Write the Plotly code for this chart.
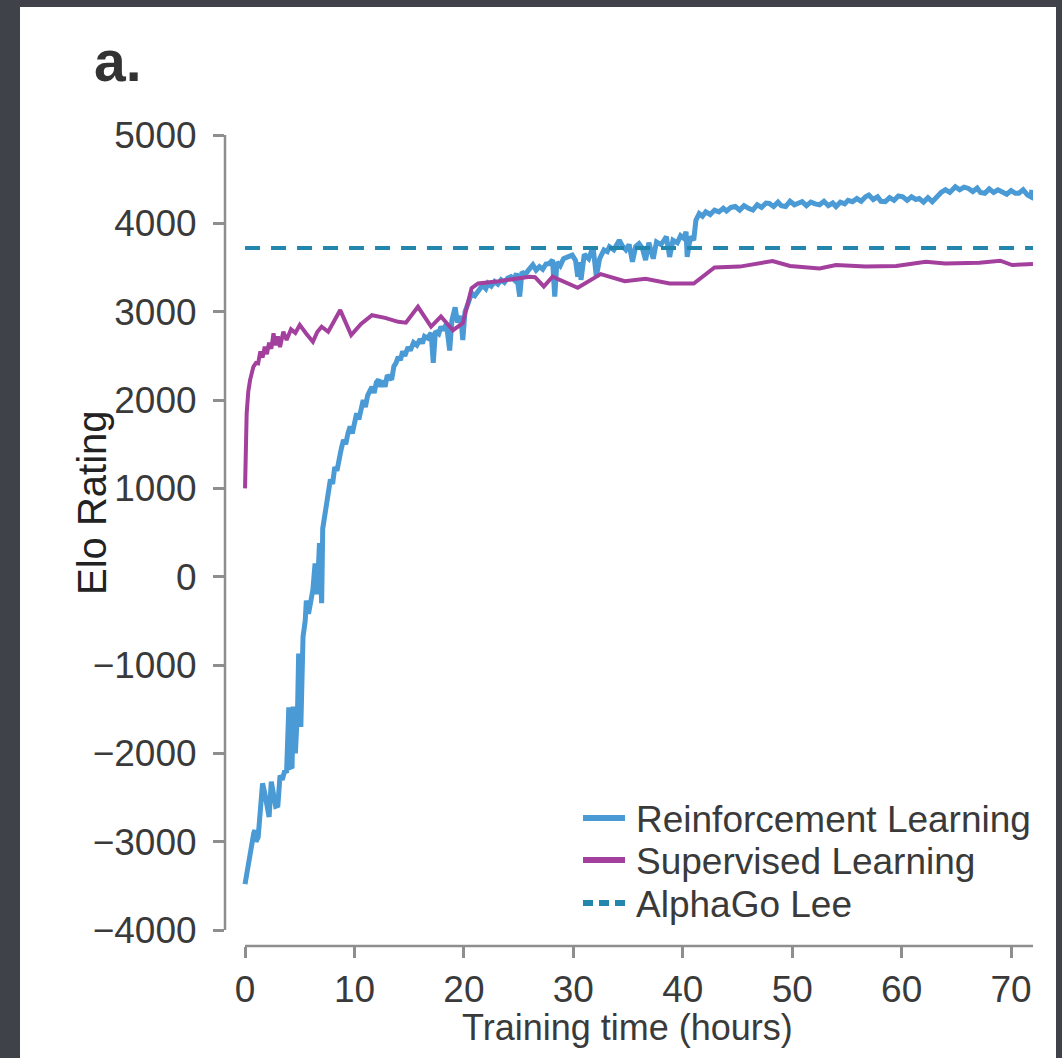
import plotly.graph_objects as go

# ---------------- data ----------------
rl_hours = [0.0, 0.3, 0.6, 0.8, 0.9, 1.0, 1.2, 1.4, 1.6, 1.8, 2.0, 2.2, 2.4, 2.6, 2.8, 3.0,
            3.2, 3.4, 3.6, 3.8, 4.0, 4.1, 4.3, 4.4, 4.6, 4.8, 4.9, 5.1, 5.3, 5.5, 5.6, 5.8,
            6.0, 6.2, 6.4, 6.6, 6.8, 7.0, 7.1, 7.3, 7.4, 7.6, 7.8, 8.0, 8.2, 8.4, 8.6, 8.8,
            9.0, 9.2, 9.4, 9.6, 9.8, 10.0, 10.2, 10.4, 10.6, 10.8, 11.0, 11.2, 11.4, 11.6,
            11.8, 12.0, 12.2, 12.4, 12.6, 12.8, 13.0, 13.2, 13.4, 13.6, 13.8, 14.0, 14.2,
            14.4, 14.6, 14.9, 15.1, 15.4, 15.7, 16.0, 16.2, 16.4, 16.7, 17.0, 17.2, 17.4,
            17.7, 17.9, 18.1, 18.4, 18.7, 18.9, 19.2, 19.4, 19.7, 19.9, 20.1, 20.4, 20.7,
            21.0, 21.4, 21.7, 22.0, 22.2, 22.5, 22.8, 23.1, 23.4, 23.7, 24.0, 24.3, 24.6,
            24.8, 25.1, 25.3, 25.6, 25.9, 26.3, 26.6, 26.9, 27.2, 27.5, 27.8, 28.1, 28.3,
            28.5, 28.8, 29.1, 29.5, 29.9, 30.2, 30.4, 30.6, 30.7, 31.0, 31.4, 31.8, 32.1,
            32.4, 32.8, 33.1, 33.3, 33.7, 34.0, 34.2, 34.5, 34.8, 35.1, 35.4, 35.7, 36.0,
            36.3, 36.6, 36.9, 37.3, 37.6, 38.0, 38.3, 38.5, 38.8, 39.1, 39.5, 39.8, 40.1,
            40.3, 40.4, 40.7, 41.0, 41.2, 41.5, 41.8, 42.1, 42.5, 42.9, 43.3, 43.7, 44.0,
            44.4, 44.8, 45.2, 45.6, 46.0, 46.4, 46.8, 47.2, 47.6, 47.9, 48.3, 48.7, 49.0,
            49.4, 49.8, 50.2, 50.6, 50.9, 51.3, 51.7, 52.1, 52.5, 52.9, 53.3, 53.7, 54.0,
            54.4, 54.8, 55.1, 55.5, 55.9, 56.3, 56.7, 57.0, 57.4, 57.8, 58.1, 58.5, 58.9,
            59.3, 59.7, 60.1, 60.5, 60.9, 61.3, 61.6, 62.0, 62.4, 62.8, 63.2, 63.6, 64.0,
            64.4, 64.9, 65.3, 65.7, 66.1, 66.5, 66.9, 67.2, 67.6, 68.0, 68.4, 68.8, 69.2,
            69.6, 70.0, 70.4, 70.7, 71.1, 71.5, 71.8, 71.9]
rl_elo = [-3480, -3250, -3000, -2900, -2870, -3000, -2950, -2550, -2340, -2450, -2600, -2720,
          -2320, -2450, -2600, -2590, -2250, -2300, -2210, -2200, -1480, -2160, -2150, -1470,
          -2000, -1500, -870, -1700, -680, -500, -270, -420, -300, -150, 150, -200, 380, -300,
          545, 700, 830, 900, 1100, 1050, 1240, 1200, 1350, 1450, 1550, 1500, 1620, 1700,
          1620, 1750, 1850, 1780, 1900, 2000, 1920, 2050, 2100, 2150, 2080, 2200, 2230, 2150,
          2220, 2150, 2280, 2250, 2230, 2380, 2420, 2490, 2450, 2550, 2500, 2600, 2560, 2650,
          2620, 2690, 2640, 2720, 2700, 2760, 2420, 2780, 2750, 2830, 2790, 2860, 2560, 2900,
          3050, 2880, 2950, 2680, 3000, 3100, 3210, 3180, 3250, 3300, 3260, 3320, 3290, 3340,
          3310, 3360, 3330, 3380, 3395, 3360, 3435, 3170, 3450, 3420, 3470, 3530, 3470, 3510,
          3480, 3540, 3545, 3585, 3170, 3560, 3520, 3600, 3620, 3640, 3580, 3395, 3560, 3360,
          3650, 3600, 3735, 3395, 3600, 3700, 3680, 3735, 3700, 3780, 3810, 3740, 3700, 3760,
          3565, 3740, 3770, 3720, 3585, 3780, 3600, 3790, 3760, 3810, 3850, 3620, 3810, 3780,
          3860, 3830, 3905, 3620, 3850, 3810, 4035, 4110, 4080, 4130, 4100, 4150, 4130, 4170,
          4140, 4180, 4190, 4150, 4200, 4170, 4150, 4210, 4180, 4230, 4225, 4190, 4240, 4200,
          4190, 4250, 4210, 4230, 4245, 4200, 4240, 4220, 4210, 4250, 4200, 4230, 4190, 4240,
          4220, 4260, 4245, 4280, 4250, 4300, 4320, 4270, 4300, 4250, 4245, 4290, 4260, 4310,
          4300, 4260, 4300, 4270, 4280, 4240, 4290, 4245, 4300, 4350, 4380, 4350, 4415, 4380,
          4410, 4395, 4360, 4400, 4350, 4340, 4390, 4350, 4380, 4360, 4330, 4370, 4340, 4340,
          4380, 4320, 4300, 4380]

sl_hours = [0.0, 0.15, 0.3, 0.46, 0.76, 1.0, 1.2, 1.4, 1.6, 1.8, 2.0, 2.2, 2.4, 2.6, 2.8, 3.0,
            3.2, 3.5, 3.8, 4.2, 4.6, 5.0, 5.6, 6.2, 6.6, 7.0, 7.6, 8.7, 9.7, 10.6, 11.6, 12.8,
            14.0, 14.7, 15.8, 17.0, 17.9, 19.0, 19.9, 20.7, 21.3, 23.2, 26.0, 26.5, 27.3, 28.1,
            30.4, 32.5, 34.7, 36.6, 38.8, 41.0, 42.9, 45.2, 48.2, 49.8, 52.5, 54.0, 56.7, 59.5,
            62.2, 64.0, 67.1, 69.0, 70.1, 72.0]
sl_elo = [1000, 1850, 2100, 2225, 2376, 2420, 2415, 2550, 2480, 2603, 2520, 2650, 2580, 2754,
          2620, 2720, 2600, 2773, 2680, 2800, 2760, 2850, 2750, 2660, 2770, 2830, 2773, 3018,
          2735, 2860, 2960, 2930, 2885, 2875, 3055, 2830, 2945, 2790, 2870, 3265, 3320, 3345,
          3395, 3390, 3285, 3395, 3270, 3425, 3345, 3372, 3318, 3318, 3500, 3510, 3573, 3517,
          3490, 3528, 3510, 3517, 3565, 3546, 3554, 3577, 3528, 3540]

alphago_lee_hours = [0, 72]
alphago_lee_elo = [3720, 3720]

series_names = ["Reinforcement Learning", "Supervised Learning", "AlphaGo Lee"]

x_ticks = [0, 10, 20, 30, 40, 50, 60, 70]
y_ticks = [5000, 4000, 3000, 2000, 1000, 0, -1000, -2000, -3000, -4000]
y_tick_text = ["5000", "4000", "3000", "2000", "1000", "0",
               "\u22121000", "\u22122000", "\u22123000", "\u22124000"]

# ---------------- style ----------------
FONT = "Liberation Sans, Arial, Helvetica, sans-serif"
TEXT = "#3a3a3a"
AXIS = "#8e8e8e"
C_RL, C_SL, C_AG = "#4a9ad6", "#a3409d", "#2386ad"

fig = go.Figure()
fig.add_trace(go.Scatter(x=rl_hours, y=rl_elo, mode="lines", name=series_names[0],
                         line=dict(color=C_RL, width=5), showlegend=False))
fig.add_trace(go.Scatter(x=sl_hours, y=sl_elo, mode="lines", name=series_names[1],
                         line=dict(color=C_SL, width=4), showlegend=False))
fig.add_trace(go.Scatter(x=alphago_lee_hours, y=alphago_lee_elo, mode="lines", name=series_names[2],
                         line=dict(color=C_AG, width=4, dash="15px,11px"), showlegend=False))

W, H = 1062, 1058
L, R, T, B = 225, 29, 135, 112
pw, ph = W - L - R, H - T - B

def px_x(p):
    return (p - L) / pw

def px_y(p):
    return (H - B - p) / ph

shapes = [
    # white panel
    dict(type="rect", xref="paper", yref="paper", x0=px_x(20), x1=px_x(1056),
         y0=px_y(1070), y1=px_y(7), fillcolor="white", line=dict(width=0), layer="below"),
    # detached axis lines
    dict(type="line", xref="paper", yref="y", x0=0, x1=0, y0=-4000, y1=5000,
         line=dict(color=AXIS, width=2.5)),
    dict(type="line", xref="x", yref="paper", x0=0, x1=72, y0=0, y1=0,
         line=dict(color=AXIS, width=2.5)),
]

annotations = [
    dict(text="<b>a.</b>", xref="paper", yref="paper", x=px_x(92), y=px_y(61),
         xanchor="left", yanchor="middle", showarrow=False,
         font=dict(size=57, color="#333333", family=FONT)),
    dict(text="Elo Rating", xref="paper", yref="paper", x=px_x(92), y=px_y(503),
         xanchor="center", yanchor="middle", textangle=-90, showarrow=False,
         font=dict(size=40, color="#222222", family=FONT)),
    dict(text="Training time (hours)", xref="paper", yref="paper", x=px_x(627), y=px_y(1027),
         xanchor="center", yanchor="middle", showarrow=False,
         font=dict(size=36, color=TEXT, family=FONT)),
]

# legend drawn manually (line samples + labels)
leg_rows = [818, 860, 903]
leg_styles = [dict(color=C_RL, width=6), dict(color=C_SL, width=6),
              dict(color=C_AG, width=6, dash="10px,6px")]
for name, yy, st in zip(series_names, leg_rows, leg_styles):
    shapes.append(dict(type="line", xref="paper", yref="paper", x0=px_x(583), x1=px_x(625),
                       y0=px_y(yy), y1=px_y(yy), line=st))
    annotations.append(dict(text=name, xref="paper", yref="paper", x=px_x(634), y=px_y(yy + 1),
                            xanchor="left", yanchor="middle", showarrow=False,
                            font=dict(size=37, color=TEXT, family=FONT)))

fig.update_layout(
    width=W, height=H,
    margin=dict(l=L, r=R, t=T, b=B, autoexpand=False),
    paper_bgcolor="#40424a", plot_bgcolor="white",
    font=dict(family=FONT, color=TEXT, size=37),
    shapes=shapes, annotations=annotations,
    showlegend=False,
    xaxis=dict(range=[-1.83, 72], tickvals=x_ticks, ticktext=[str(v) for v in x_ticks],
               showgrid=False, zeroline=False, showline=False,
               ticks="outside", ticklen=11, tickwidth=2.5, tickcolor=AXIS,
               tickfont=dict(size=37, color=TEXT, family=FONT), ticklabelstandoff=0),
    yaxis=dict(range=[-4181, 5000], tickvals=y_ticks, ticktext=y_tick_text,
               showgrid=False, zeroline=False, showline=False,
               ticks="outside", ticklen=11, tickwidth=2.5, tickcolor=AXIS,
               tickfont=dict(size=37, color=TEXT, family=FONT), ticklabelstandoff=9),
)

fig.write_html(
    "out.html",
    config={"displayModeBar": False},
    post_script="document.body.style.margin='0';document.body.style.background='#40424a';",
)
